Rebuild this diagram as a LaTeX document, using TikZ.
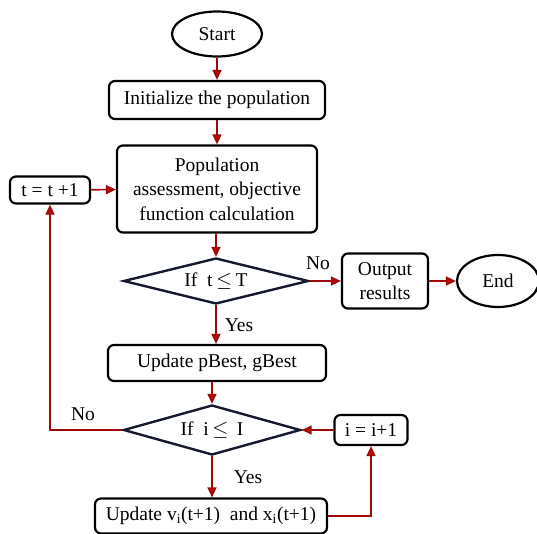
\documentclass[tikz,border=0pt]{standalone}
\usepackage{fontspec}
\setmainfont{Liberation Serif}
\usetikzlibrary{shapes.geometric,arrows.meta}
\definecolor{flow}{RGB}{190,10,10}
\definecolor{edge}{RGB}{20,25,45}
\begin{document}
\begin{tikzpicture}[x=1pt,y=-1pt,
  every node/.style={font=\fontsize{19.5}{24.5}\selectfont},
  box/.style={draw=black, line width=2.2pt, rounded corners=6pt, align=center, inner sep=0pt},
  term/.style={ellipse, draw=black, line width=2.2pt, inner sep=0pt},
  dec/.style={diamond, draw=edge, line width=2.4pt, inner sep=0pt, shape aspect=4},
  lbl/.style={inner sep=0pt},
  link/.style={draw=flow!85!black, line width=1.6pt, -{Triangle[length=10pt,width=9pt,fill=flow]}}
]
\useasboundingbox (0,0) rectangle (537,534);

% main column
\node[term, minimum width=90, minimum height=45] (start) at (217,34) {Start};
\node[box, minimum width=216, minimum height=38] (init) at (217,100) {Initialize the population};
\node[box, minimum width=200, minimum height=87] (pop) at (217,189) {Population\\assessment, objective\\function calculation};
\node[dec, minimum width=185, minimum height=46] (d1) at (216,281) {If~ t$\,\leq\,$T};
\node[box, minimum width=218, minimum height=36] (upd1) at (217,363) {Update pBest, gBest};
\node[dec, minimum width=177, minimum height=50] (d2) at (212,430) {If~ i$\,\leq\,$ I};
\node[box, minimum width=232, minimum height=35] (upd2) at (211,516) {Update v\textsubscript{i}(t+1)~ and x\textsubscript{i}(t+1)};

% side nodes
\node[box, minimum width=80, minimum height=27] (tinc) at (50,190) {t = t +1};
\node[box, minimum width=86, minimum height=55] (out) at (385,281) {Output\\results};
\node[term, minimum width=82, minimum height=52] (end) at (498,281) {End};
\node[box, minimum width=73, minimum height=30] (iinc) at (371,430) {i = i+1};

% branch labels
\node[lbl] (no1) at (318,263) {No};
\node[lbl] (yes1) at (239,325) {Yes};
\node[lbl] (no2) at (83,414) {No};
\node[lbl] (yes2) at (248,477) {Yes};

% connectors
\draw[link] (start) -- (init);
\draw[link] (init) -- (pop);
\draw[link] (pop.south -| d1.north) -- (d1.north);
\draw[link] (d1) -- (out);
\draw[link] (out) -- (end);
\draw[link] (d1.south) -- (d1.south |- upd1.north);
\draw[link] (upd1.south -| d2.north) -- (d2.north);
\draw[link] (d2.south) -- (d2.south |- upd2.north);
\draw[link] (upd2.east) -| (iinc.south);
\draw[link] (iinc) -- (d2);
\draw[link] (d2.west) -| (tinc.south);
\draw[link] (tinc) -- (pop);
\end{tikzpicture}
\end{document}
